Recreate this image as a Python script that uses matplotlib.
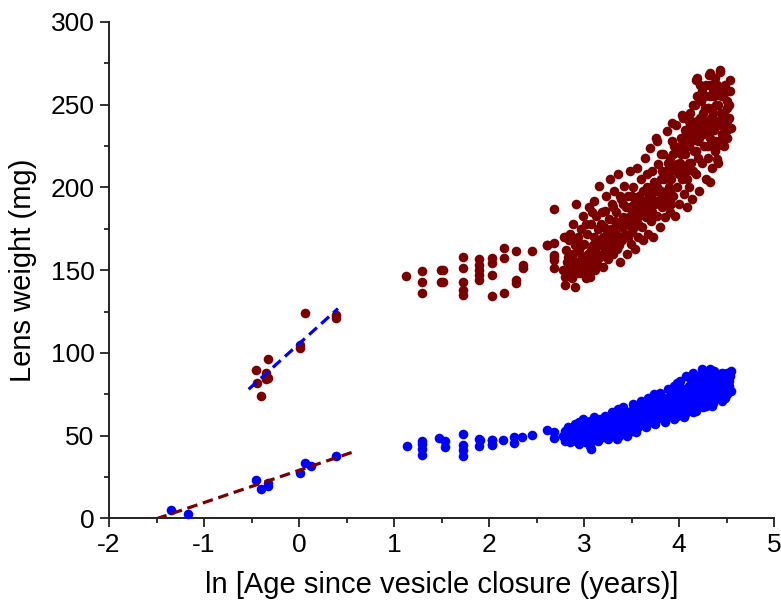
import numpy as np
import matplotlib
matplotlib.use("Agg")
import matplotlib.pyplot as plt
from matplotlib.ticker import MultipleLocator

plt.rcParams['font.family'] = ['Liberation Sans', 'DejaVu Sans']
plt.rcParams['axes.unicode_minus'] = False

# ---------------- data ----------------
# Maroon series (upper) : early points fitted with blue dashed line
red_age_early = [0.06, 0.39, 0.39, 0.01, 0.01, -0.33, -0.45, -0.35, -0.33, -0.35, -0.44, -0.40]
red_wt_early = [124, 123, 121, 104.8, 102.8, 96.2, 89.7, 87.7, 84.7, 84.1, 81.7, 74]

red_age_mid = [1.13, 1.29, 1.29, 1.29, 1.49, 1.52, 1.49, 1.52, 1.73, 1.73,
               1.73, 1.73, 1.73, 1.89, 1.89, 1.89, 1.89, 1.89, 2.03, 2.03,
               2.03, 2.03, 2.16, 2.16, 2.16, 2.28, 2.28, 2.28, 2.36, 2.36,
               2.45, 2.61, 2.68, 2.68, 2.68, 2.68, 2.80, 2.68, 2.61, 2.68]
red_wt_mid = [146.6, 149.2, 143.1, 136.1, 150.2, 150.2, 143.1, 143.1, 157.9, 151.2,
              143.1, 138.1, 135.1, 156.7, 153.2, 150.2, 147.2, 144.1, 157.3, 154.2,
              147.2, 134.1, 163.3, 157.3, 136.1, 161.3, 144.1, 142.1, 153.2, 151.2,
              161.3, 165.3, 166.3, 159.3, 156.3, 151.2, 170.3, 186.9, 165.3, 158.0]

red_age_late = [
    2.78, 2.80, 2.80, 2.81, 2.82, 2.83, 2.84, 2.85, 2.85, 2.79,
    2.87, 2.88, 2.88, 2.90, 2.90, 2.91, 2.92, 2.93, 2.94, 2.95,
    2.96, 2.97, 2.98, 2.99, 3.00, 3.01, 3.02, 3.03, 3.04, 3.05,
    3.06, 3.07, 3.08, 3.09, 3.10, 3.11, 3.12, 3.13, 3.14, 3.15,
    3.16, 3.17, 3.18, 3.19, 3.20, 3.21, 3.22, 3.23, 3.24, 3.25,
    3.26, 3.27, 3.28, 3.29, 3.30, 3.31, 3.32, 3.33, 3.34, 3.35,
    3.36, 3.37, 3.38, 3.39, 3.40, 3.41, 3.42, 3.43, 3.44, 3.45,
    3.46, 3.47, 3.48, 3.49, 3.50, 3.51, 3.52, 3.53, 3.54, 3.55,
    3.56, 3.57, 3.58, 3.59, 3.60, 3.61, 3.62, 3.63, 3.64, 3.65,
    3.66, 3.67, 3.68, 3.69, 3.70, 3.71, 3.72, 3.73, 3.74, 3.75,
    3.76, 3.77, 3.78, 3.79, 3.80, 3.81, 3.82, 3.83, 3.84, 3.85,
    3.86, 3.87, 3.88, 3.89, 3.90, 3.91, 3.92, 3.93, 3.94, 3.95,
    3.96, 3.97, 3.98, 3.99, 4.00, 4.01, 4.02, 4.03, 4.04, 4.05,
    4.06, 4.07, 4.08, 4.09, 4.10, 4.11, 4.12, 4.13, 4.14, 4.15,
    4.16, 4.17, 4.18, 4.19, 4.20, 4.21, 4.22, 4.23, 4.24, 4.25,
    4.26, 4.27, 4.28, 4.29, 4.30, 4.31, 4.32, 4.33, 4.34, 4.35,
    4.36, 4.37, 4.38, 4.39, 4.40, 4.41, 4.42, 4.43, 4.44, 4.45,
    4.46, 4.47, 4.48, 4.49, 4.50, 4.51, 4.52, 4.53, 4.54, 4.55,
    3.02, 3.08, 3.12, 3.18, 3.22, 3.28, 3.33, 3.38, 3.43, 3.48,
    3.53, 3.58, 3.62, 3.67, 3.72, 3.77, 3.82, 3.87, 3.92, 3.97,
    4.02, 4.06, 4.11, 4.16, 4.21, 4.26, 4.31, 4.36, 4.41, 4.46,
    4.08, 4.13, 4.18, 4.23, 4.28, 4.33, 4.38, 4.43, 4.48, 4.53,
    3.95, 4.00, 4.05, 4.10, 4.15, 4.20, 4.25, 4.30, 4.35, 4.40,
    2.92, 2.98, 3.04, 3.10, 3.15, 3.20, 3.26, 3.31, 3.36, 3.41,
    3.46, 3.51, 3.56, 3.61, 3.66, 3.71, 3.76, 3.81, 3.86, 3.91,
    4.18, 4.28, 4.38, 4.44, 4.50, 4.12, 4.22, 4.32, 4.42, 4.47,
    2.82, 2.86, 2.89, 2.93, 2.97, 3.00, 3.03, 3.07, 3.11, 3.14,
    3.17, 3.21, 3.24, 3.27, 3.30, 3.34, 3.37, 3.40, 3.44, 3.47,
    3.50, 3.54, 3.57, 3.60, 3.64, 3.68, 3.71, 3.74, 3.78, 3.81,
    3.84, 3.88, 3.91, 3.94, 3.98, 4.01, 4.04, 4.07, 4.10, 4.13,
    4.15, 4.19, 4.24, 4.27, 4.33, 4.37, 4.40, 4.45, 4.51, 4.54,
    3.93, 4.03, 4.19, 4.33, 4.43, 3.77, 4.33, 4.40, 4.50, 4.20,
]
red_wt_late = [
    150, 146, 141, 162, 155, 158, 168, 152, 172, 170,
    145, 160, 178, 150, 165, 140, 190, 155, 170, 162,
    148, 175, 158, 183, 166, 152, 145, 172, 160, 188,
    146, 178, 155, 165, 192, 170, 150, 183, 160, 175,
    201, 158, 168, 185, 152, 176, 163, 195, 172, 157,
    181, 205, 166, 190, 160, 175, 198, 170, 185, 163,
    208, 178, 155, 193, 168, 182, 201, 172, 188, 160,
    195, 177, 210, 166, 185, 173, 200, 190, 163, 180,
    212, 170, 195, 186, 205, 176, 168, 192, 218, 182,
    200, 172, 188, 224, 195, 180, 210, 170, 203, 190,
    230, 183, 214, 197, 176, 205, 188, 220, 195, 182,
    210, 234, 192, 200, 185, 218, 205, 228, 195, 212,
    183, 238, 200, 222, 190, 215, 230, 205, 242, 196,
    220, 210, 188, 235, 225, 200, 245, 215, 193, 232,
    222, 250, 208, 240, 228, 198, 262, 235, 215, 245,
    225, 255, 205, 238, 248, 218, 268, 230, 242, 212,
    258, 235, 222, 250, 240, 215, 228, 270, 245, 232,
    255, 225, 262, 238, 248, 230, 258, 242, 265, 236,
    178, 185, 162, 178, 186, 175, 180, 195, 178, 188,
    176, 183, 198, 190, 185, 200, 210, 198, 190, 210,
    220, 235, 215, 238, 230, 240, 235, 245, 250, 240,
    205, 228, 222, 252, 232, 255, 228, 238, 230, 250,
    225, 208, 212, 240, 210, 218, 232, 225, 238, 225,
    168, 165, 150, 157, 166, 170, 162, 188, 168, 190,
    170, 195, 190, 185, 208, 198, 192, 220, 190, 198,
    265, 262, 266, 258, 240, 238, 242, 248, 256, 245,
    148, 156, 152, 148, 153, 158, 155, 162, 158, 154,
    165, 160, 166, 170, 168, 172, 165, 176, 170, 182,
    178, 185, 178, 190, 186, 195, 190, 198, 192, 198,
    205, 215, 210, 220, 214, 225, 222, 228, 232, 240,
    250, 255, 258, 248, 262, 255, 262, 255, 252, 258,
    239, 244, 266, 269, 271, 228, 203, 217, 235, 236,
]

# Blue series (lower) : early points fitted with maroon dashed line
blue_age_early = [-1.35, -1.17, -0.45, -0.40, -0.33, -0.33, 0.01, 0.06, 0.13, 0.39]
blue_wt_early = [5.0, 2.6, 23.2, 17.7, 21.5, 19.5, 27.6, 33.2, 31.8, 37.9]

blue_age_mid = [1.14, 1.29, 1.29, 1.29, 1.29, 1.47, 1.54, 1.54, 1.73, 1.73,
                1.73, 1.73, 1.89, 1.89, 2.03, 2.03, 1.90, 2.03, 2.03, 2.15,
                2.26, 2.26, 2.35, 2.45, 2.61, 2.68, 2.68]
blue_wt_mid = [43.7, 47.0, 44.9, 41.7, 38.3, 48.4, 47.0, 43.3, 51.0, 44.4,
               41.3, 37.9, 48.0, 43.7, 47.4, 45.0, 47.4, 47.4, 44.4, 47.4,
               49.0, 45.7, 49.0, 50.4, 53.4, 52.4, 48.4]

blue_age_late = [
    2.78, 2.80, 2.80, 2.82, 2.83, 2.84, 2.86, 2.87, 2.88, 2.90,
    2.91, 2.92, 2.93, 2.94, 2.95, 2.96, 2.97, 2.98, 2.99, 3.00,
    3.01, 3.02, 3.03, 3.04, 3.05, 3.06, 3.06, 3.07, 3.08, 3.09,
    3.10, 3.11, 3.12, 3.13, 3.14, 3.15, 3.16, 3.17, 3.18, 3.19,
    3.20, 3.21, 3.22, 3.23, 3.24, 3.25, 3.26, 3.27, 3.28, 3.29,
    3.30, 3.31, 3.32, 3.33, 3.34, 3.35, 3.36, 3.37, 3.38, 3.39,
    3.40, 3.41, 3.42, 3.43, 3.44, 3.45, 3.46, 3.47, 3.48, 3.49,
    3.50, 3.51, 3.52, 3.53, 3.54, 3.55, 3.56, 3.57, 3.58, 3.59,
    3.60, 3.61, 3.62, 3.63, 3.64, 3.65, 3.66, 3.67, 3.68, 3.69,
    3.70, 3.71, 3.72, 3.73, 3.74, 3.75, 3.76, 3.77, 3.78, 3.79,
    3.80, 3.81, 3.82, 3.83, 3.84, 3.85, 3.86, 3.87, 3.88, 3.89,
    3.90, 3.91, 3.92, 3.93, 3.94, 3.95, 3.96, 3.97, 3.98, 3.99,
    4.00, 4.01, 4.02, 4.03, 4.04, 4.05, 4.06, 4.07, 4.08, 4.09,
    4.10, 4.11, 4.12, 4.13, 4.14, 4.15, 4.16, 4.17, 4.18, 4.19,
    4.20, 4.21, 4.22, 4.23, 4.24, 4.25, 4.26, 4.27, 4.28, 4.29,
    4.30, 4.31, 4.32, 4.33, 4.34, 4.35, 4.36, 4.37, 4.38, 4.39,
    4.40, 4.41, 4.42, 4.43, 4.44, 4.45, 4.46, 4.47, 4.48, 4.49,
    4.50, 4.51, 4.52, 4.53, 4.54, 4.55, 4.50, 4.48, 4.52, 4.55,
    2.85, 2.95, 3.05, 3.15, 3.25, 3.35, 3.45, 3.55, 3.65, 3.75,
    3.85, 3.95, 4.05, 4.15, 4.25, 4.35, 4.45, 4.42, 4.32, 4.22,
    3.07, 3.12, 3.22, 3.32, 3.42, 3.52, 3.62, 3.72, 3.82, 3.92,
    4.02, 4.12, 4.18, 4.28, 4.38, 4.44, 4.14, 4.24, 4.34, 4.04,
    2.81, 2.89, 2.97, 3.04, 3.11, 3.19, 3.26, 3.34, 3.41, 3.49,
    3.56, 3.64, 3.71, 3.79, 3.86, 3.94, 4.01, 4.09, 4.16, 4.24,
    4.31, 4.39, 4.46, 4.53, 3.00, 3.14, 3.29, 3.44, 3.59, 3.74,
    3.89, 4.04, 4.19, 4.34, 4.49, 4.27, 4.37, 4.45, 4.12, 3.98,
]
blue_wt_late = [
    50, 53, 47, 49, 55, 51, 48, 52, 54, 50,
    57, 47, 53, 50, 58, 49, 55, 52, 60, 51,
    46, 54, 57, 49, 52, 44, 59, 55, 50, 53,
    61, 48, 56, 52, 58, 50, 54, 60, 53, 57,
    49, 55, 62, 52, 58, 48, 56, 60, 54, 64,
    51, 57, 55, 61, 53, 59, 66, 50, 57, 62,
    55, 67, 52, 60, 58, 63, 54, 61, 57, 65,
    53, 59, 69, 56, 62, 60, 66, 55, 63, 58,
    71, 61, 57, 65, 68, 60, 63, 73, 59, 66,
    62, 69, 58, 65, 75, 63, 67, 60, 71, 65,
    76, 62, 69, 66, 73, 60, 70, 67, 78, 64,
    72, 68, 75, 63, 70, 80, 66, 73, 62, 77,
    69, 83, 65, 74, 71, 78, 63, 86, 72, 68,
    80, 75, 66, 84, 73, 88, 70, 78, 65, 82,
    75, 86, 69, 80, 90, 73, 78, 84, 68, 88,
    76, 82, 72, 90, 79, 85, 70, 81, 88, 75,
    84, 78, 73, 87, 80, 76, 85, 74, 82, 78,
    88, 75, 84, 80, 86, 77, 81, 73, 78, 89,
    46, 45, 47, 47, 51, 48, 50, 52, 55, 57,
    58, 60, 61, 64, 67, 68, 71, 77, 76, 72,
    42, 58, 54, 58, 64, 63, 67, 70, 72, 71,
    77, 79, 84, 80, 82, 83, 70, 74, 75, 66,
    51, 53, 51, 55, 54, 56, 58, 60, 62, 61,
    63, 64, 67, 69, 71, 73, 75, 77, 79, 81,
    84, 85, 80, 83, 48, 52, 53, 56, 61, 62,
    66, 70, 73, 80, 76, 87, 89, 88, 85, 82,
]

# Fitted dashed lines (slope, intercept, x-range)
red_fit_slope, red_fit_intercept, red_fit_range = 51.9, 105.5, [-0.53, 0.41]
blue_fit_slope, blue_fit_intercept, blue_fit_range = 19.5, 29.0, [-1.50, 0.58]

x_ticks = [-2, -1, 0, 1, 2, 3, 4, 5]
y_ticks = [0, 50, 100, 150, 200, 250, 300]

MAROON = '#7a0000'
BLUE = '#0000ff'

# ---------------- figure ----------------
fig = plt.figure(figsize=(7.81, 6.02), dpi=100)
ax = fig.add_axes([0.1396, 0.1390, 0.8515, 0.8245])

red_x = red_age_early + red_age_mid + red_age_late
red_y = red_wt_early + red_wt_mid + red_wt_late
blue_x = blue_age_early + blue_age_mid + blue_age_late
blue_y = blue_wt_early + blue_wt_mid + blue_wt_late

ax.scatter(red_x, red_y, s=48, color=MAROON, linewidths=0, zorder=3, clip_on=False)
ax.scatter(blue_x, blue_y, s=48, color=BLUE, linewidths=0, zorder=3, clip_on=False)

rx = np.array(red_fit_range)
ax.plot(rx, red_fit_intercept + red_fit_slope * rx, color=BLUE, lw=2.3,
        linestyle=(0, (3.3, 1.8)), zorder=4, dash_capstyle='butt')
bx = np.array(blue_fit_range)
ax.plot(bx, blue_fit_intercept + blue_fit_slope * bx, color=MAROON, lw=2.3,
        linestyle=(0, (3.3, 1.8)), zorder=4, dash_capstyle='butt')

ax.set_xlim(-2, 5)
ax.set_ylim(0, 300)
ax.set_xticks(x_ticks)
ax.set_yticks(y_ticks)
ax.xaxis.set_minor_locator(MultipleLocator(0.5))
ax.yaxis.set_minor_locator(MultipleLocator(25))

for side in ['top', 'right']:
    ax.spines[side].set_visible(False)
for side in ['left', 'bottom']:
    ax.spines[side].set_linewidth(1.4)
    ax.spines[side].set_color('#222222')

ax.tick_params(which='major', direction='out', length=6.5, width=1.3,
               labelsize=19, pad=4, color='#222222')
ax.tick_params(which='minor', direction='out', length=3.8, width=1.3, color='#222222')

ax.set_xlabel('ln [Age since vesicle closure (years)]', fontsize=21, labelpad=10)
ax.set_ylabel('Lens weight (mg)', fontsize=21, labelpad=10)

fig.savefig('out.png', dpi=100)
